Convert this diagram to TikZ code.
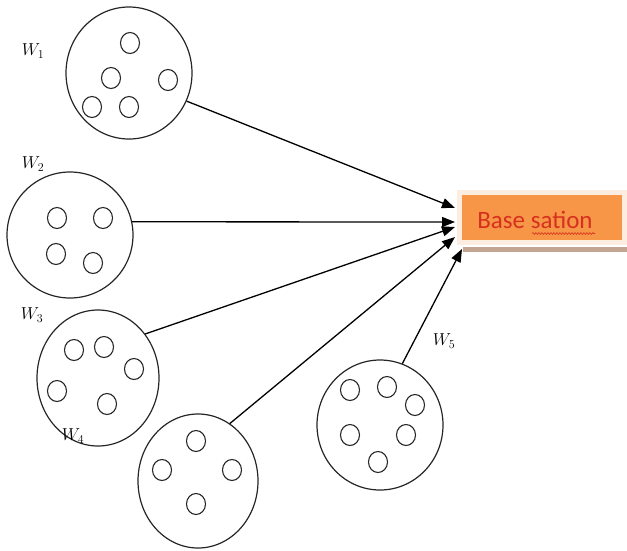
\documentclass[tikz,border=0pt]{standalone}
\usepackage{fontspec}
\newfontfamily\calib{Carlito}
\usetikzlibrary{shapes.geometric,arrows.meta,decorations.pathmorphing}
\definecolor{bsorange}{HTML}{F79646}
\definecolor{bsglow}{HTML}{FDEDE1}
\definecolor{bsshadow}{HTML}{C4A592}
\definecolor{bsred}{HTML}{D83020}
\begin{document}
\begin{tikzpicture}[x=1pt,y=-1pt,
  cell/.style={draw=black!85, line width=1.2pt, ellipse, inner sep=0pt},
  sensor/.style={draw=black!85, line width=1.1pt, ellipse, inner sep=0pt, minimum width=19pt, minimum height=21pt},
  wlabel/.style={inner sep=0pt, font=\fontsize{18}{21}\selectfont},
  link/.style={draw=black, line width=1.3pt, -{Triangle[length=13pt,width=10pt]}},
  bsbox/.style={fill=bsorange, inner sep=0pt, minimum width=160pt, minimum height=45pt},
]
\useasboundingbox (0,0) rectangle (627,550);

% base station
\fill[bsglow] (457,190) rectangle (627,245);
\fill[bsshadow] (463,246.5) rectangle (627,251.5);
\node[bsbox] (bs) at (542,217.5) {};
\node[anchor=base, inner sep=0pt, text=bsred, font=\calib\fontsize{25}{28}\selectfont] (bstext) at (535,228) {Base sation};
\draw[bsred, line width=0.6pt, decorate, decoration={snake, amplitude=0.9pt, segment length=3pt}] (532,233.5) -- (595,233.5);

% clusters
\node[cell, minimum width=126pt, minimum height=132pt] (w1) at (129,73) {};
\node[cell, minimum width=126pt, minimum height=126pt] (w2) at (70,235) {};
\node[cell, minimum width=122pt, minimum height=136pt] (w3) at (98,378) {};
\node[cell, minimum width=120pt, minimum height=134pt] (w4) at (198,481) {};
\node[cell, minimum width=126pt, minimum height=130pt] (w5) at (380,425) {};

% sensors
\foreach \p [count=\i] in {(130,43),(111,78),(168,80),(92,107),(129,107)}
  \node[sensor] (s1\i) at \p {};
\foreach \p [count=\i] in {(57,218),(103,218),(56,254),(93,263)}
  \node[sensor] (s2\i) at \p {};
\foreach \p [count=\i] in {(74,350),(104,347),(134,369),(57,391),(107,404)}
  \node[sensor] (s3\i) at \p {};
\foreach \p [count=\i] in {(196,441),(162,470),(232,470),(196,504)}
  \node[sensor] (s4\i) at \p {};
\foreach \p [count=\i] in {(350,390),(387,387),(415,405),(350,435),(406,435),(378,462)}
  \node[sensor] (s5\i) at \p {};

% labels
\node[wlabel] (l1) at (33,51) {$W_1$};
\node[wlabel] (l2) at (33,164) {$W_2$};
\node[wlabel] (l3) at (32,315) {$W_3$};
\node[wlabel] (l4) at (73,436) {$W_4$};
\node[wlabel] (l5) at (444,341) {$W_5$};

% arrow tips
\coordinate (t1) at (455,208);
\coordinate (t2) at (455,222);
\coordinate (t3) at (455,227);
\coordinate (t4) at (455,237);
\coordinate (t5) at (462,249);

\draw[link] (w1.-26) -- (t1);
\draw[link] (w2.12) -- (t2);
\draw[link] (w3.43) -- (t3);
\draw[link] (w4.61) -- (t4);
\draw[link] (w5.70) -- (t5);
\end{tikzpicture}
\end{document}
